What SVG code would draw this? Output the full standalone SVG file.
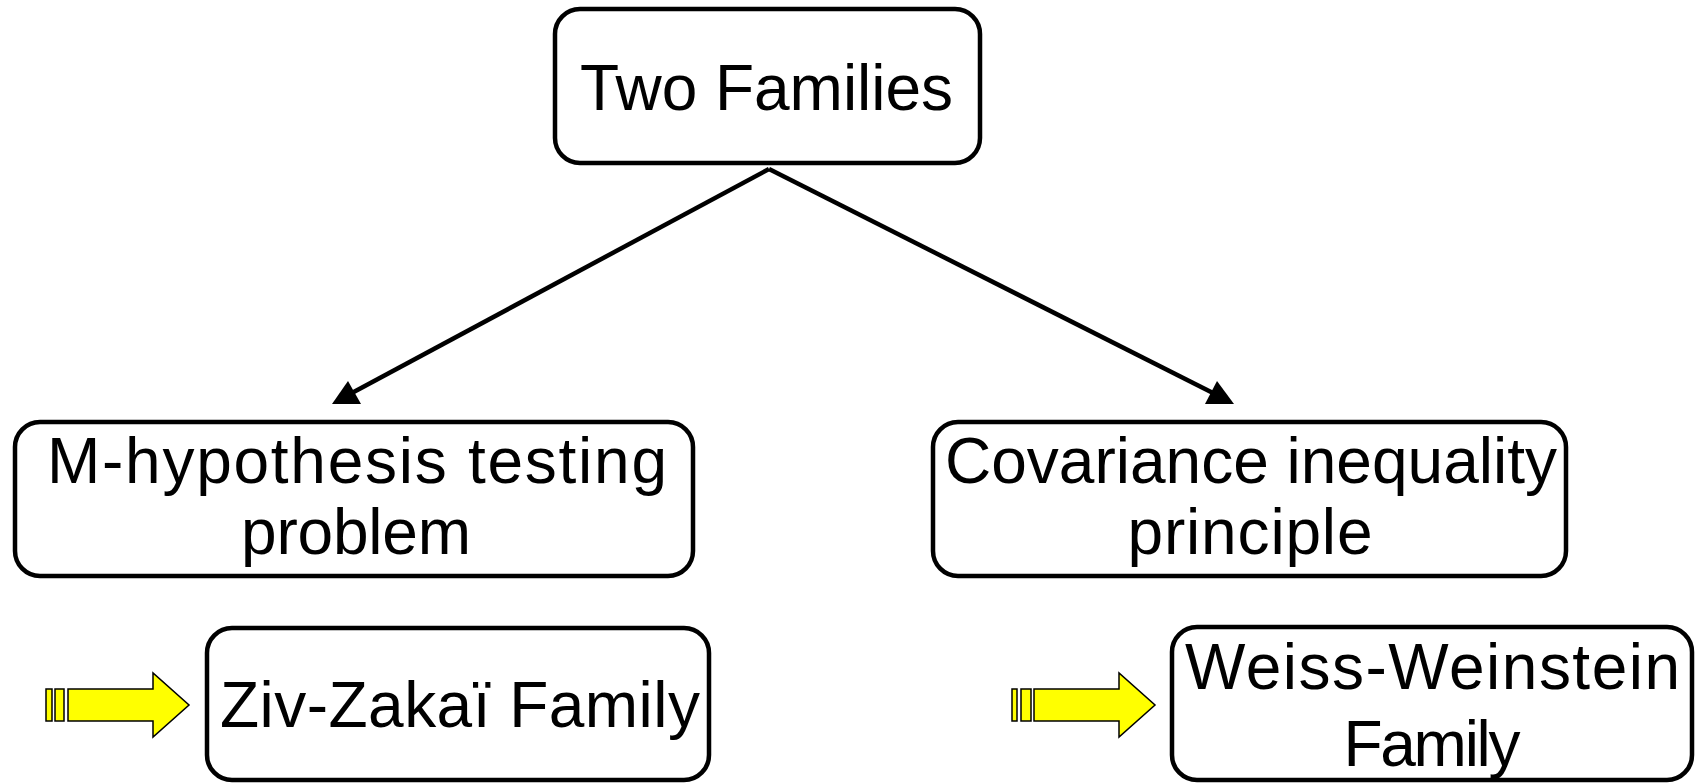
<svg xmlns="http://www.w3.org/2000/svg" width="1703" height="784" viewBox="0 0 1703 784">
<style>
.box{fill:#fff;stroke:#000;stroke-width:4.5}
.lbl{font-family:"Liberation Sans",Arial,sans-serif;font-size:64px;fill:#000;text-anchor:middle}
.conn{stroke:#000;stroke-width:4.5;fill:none}
.head{fill:#000;stroke:none}
.ya{fill:#ffff00;stroke:#000;stroke-width:1.5;stroke-linejoin:miter}
</style>
<rect width="1703" height="784" fill="#fff"/>
<g id="connectors">
<line class="conn" x1="769" y1="169" x2="350" y2="394"/>
<polygon class="head" points="348,381 332,404 361,404"/>
<line class="conn" x1="769" y1="169" x2="1215" y2="394"/>
<polygon class="head" points="1217,381 1205,404 1234,404"/>
</g>
<g id="node-two-families">
<rect class="box" x="555" y="9" width="425" height="154" rx="25"/>
<text class="lbl" x="766.5" y="110" textLength="373" lengthAdjust="spacing">Two Families</text>
</g>
<g id="node-m-hypothesis">
<rect class="box" x="15" y="422" width="678" height="154" rx="25"/>
<text class="lbl" x="357" y="483" textLength="620" lengthAdjust="spacing">M-hypothesis testing</text>
<text class="lbl" x="356" y="554" textLength="230" lengthAdjust="spacing">problem</text>
</g>
<g id="node-covariance">
<rect class="box" x="933" y="422" width="633" height="154" rx="25"/>
<text class="lbl" x="1251" y="483" textLength="612" lengthAdjust="spacing">Covariance inequality</text>
<text class="lbl" x="1250" y="554" textLength="245" lengthAdjust="spacing">principle</text>
</g>
<g id="arrow-left">
<rect class="ya" x="46" y="689" width="6" height="32"/>
<rect class="ya" x="55" y="689" width="9" height="32"/>
<polygon class="ya" points="68,689 153,689 153,673 189,705 153,737 153,721 68,721"/>
</g>
<g id="node-ziv-zakai">
<rect class="box" x="207" y="628" width="502" height="152" rx="25"/>
<text class="lbl" x="460" y="727" textLength="480" lengthAdjust="spacing">Ziv-Zakaï Family</text>
</g>
<g id="arrow-right">
<rect class="ya" x="1012" y="689" width="5" height="32"/>
<rect class="ya" x="1021" y="689" width="10" height="32"/>
<polygon class="ya" points="1034,689 1119,689 1119,673 1155,705 1119,737 1119,721 1034,721"/>
</g>
<g id="node-weiss-weinstein">
<rect class="box" x="1172" y="627" width="520" height="153" rx="25"/>
<text class="lbl" x="1432.5" y="689" textLength="495" lengthAdjust="spacing">Weiss-Weinstein</text>
<text class="lbl" x="1432" y="766" textLength="177" lengthAdjust="spacing">Family</text>
</g>
</svg>
